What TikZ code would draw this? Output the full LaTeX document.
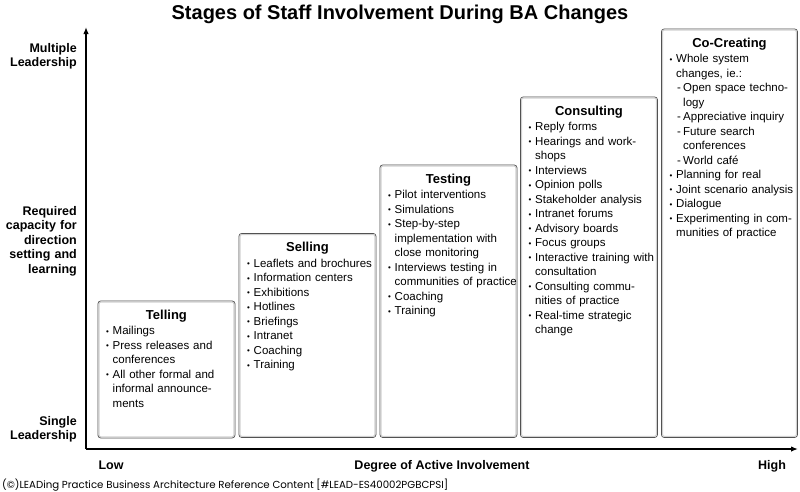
\documentclass[tikz,border=0pt]{standalone}
\usepackage{fontspec}
\usepackage{graphicx}
\setmainfont{Liberation Sans}
\newfontfamily\footfont{Poppins}
\usetikzlibrary{arrows.meta,calc}
\newcommand{\itm}{\par\hangindent=6.5pt\hangafter=1\noindent\strut\makebox[6.5pt][l]{\raisebox{0.3pt}{\footnotesize •}}}
\newcommand{\sitm}{\par\hangindent=13.5pt\hangafter=1\noindent\strut\hspace*{7.5pt}\makebox[6pt][l]{-}}
\begin{document}
\begin{tikzpicture}[x=1pt,y=-1pt,
  stagebox/.style={draw=black!75, line width=0.9pt, rounded corners=3pt, fill=white, anchor=north west, inner sep=0pt},
  innershade/.style={draw=black!18, line width=1.3pt, rounded corners=2pt},
  boxtitle/.style={anchor=base, inner sep=0pt, font=\fontsize{13}{15}\selectfont\bfseries},
  boxitems/.style={anchor=north west, inner sep=0pt, text width=200pt, align=left, font=\fontsize{11.5}{14.5}\selectfont},
  axislabel/.style={anchor=north east, inner sep=0pt, text width=90pt, align=right, font=\fontsize{12.5}{14.5}\selectfont\bfseries},
  bottomlabel/.style={anchor=base, inner sep=0pt, font=\fontsize{12.5}{14.5}\selectfont\bfseries},
  axis/.style={line width=1.5pt, -{Latex[length=7pt,width=5.5pt]}}
]
\useasboundingbox (0,0) rectangle (800,491);

% title
\node[anchor=base, inner sep=0pt, font=\fontsize{20}{24}\selectfont\bfseries] (title) at (400,19) {Stages of Staff Involvement During BA Changes};

% axes
\coordinate (origin) at (86,449);
\coordinate (ytip) at (86,27);
\coordinate (xtip) at (798,449);
\draw[axis] (origin) -- (ytip);
\draw[axis] (origin) -- (xtip);

% axis labels
\node[axislabel] (multi) at (77,42) {\strut Multiple\\Leadership};
\node[axislabel] (req) at (77,205) {\strut Required\\capacity for\\direction\\setting and\\learning};
\node[axislabel] (single) at (77,415) {\strut Single\\Leadership};
\node[bottomlabel] (low) at (111,469.5) {Low};
\node[bottomlabel] (degree) at (442,469.5) {Degree of Active Involvement};
\node[bottomlabel] (high) at (772,469.5) {High};

% boxes
\node[stagebox, minimum width=137pt, minimum height=137pt] (telling) at (97.5,300.5) {};
\node[stagebox, minimum width=137pt, minimum height=204pt] (selling) at (238.5,233) {};
\node[stagebox, minimum width=137pt, minimum height=272.5pt] (testing) at (379.5,164.5) {};
\node[stagebox, minimum width=137pt, minimum height=340.5pt] (consulting) at (520,96.5) {};
\node[stagebox, minimum width=136pt, minimum height=408.5pt] (cocreating) at (661,28.5) {};
\foreach \b in {telling,selling,testing,consulting,cocreating}{
  \draw[innershade] ($(\b.north west)+(1.4,1.4)$) rectangle ($(\b.south east)+(-1.4,-1.4)$);
}

% titles
\node[boxtitle] (tellingT) at ($(telling.north)+(0,18.5)$) {Telling};
\node[boxtitle] (sellingT) at ($(selling.north)+(0,18.5)$) {Selling};
\node[boxtitle] (testingT) at ($(testing.north)+(0,18.5)$) {Testing};
\node[boxtitle] (consultingT) at ($(consulting.north)+(0,18.5)$) {Consulting};
\node[boxtitle] (cocreatingT) at ($(cocreating.north)+(0,18.5)$) {Co-Creating};

% items
\node[boxitems] (tellingL) at ($(telling.north west)+(8.5,19.3)$) {%
\itm Mailings
\itm Press releases and\newline conferences
\itm All other formal and\newline informal announce-\newline ments\par};
\node[boxitems] (sellingL) at ($(selling.north west)+(8.5,19.3)$) {%
\itm Leaflets and brochures
\itm Information centers
\itm Exhibitions
\itm Hotlines
\itm Briefings
\itm Intranet
\itm Coaching
\itm Training\par};
\node[boxitems] (testingL) at ($(testing.north west)+(8.5,19.3)$) {%
\itm Pilot interventions
\itm Simulations
\itm Step-by-step\newline implementation with\newline close monitoring
\itm Interviews testing in\newline communities of practice
\itm Coaching
\itm Training\par};
\node[boxitems] (consultingL) at ($(consulting.north west)+(8.5,19.3)$) {%
\itm Reply forms
\itm Hearings and work-\newline shops
\itm Interviews
\itm Opinion polls
\itm Stakeholder analysis
\itm Intranet forums
\itm Advisory boards
\itm Focus groups
\itm Interactive training with\newline consultation
\itm Consulting commu-\newline nities of practice
\itm Real-time strategic\newline change\par};
\node[boxitems] (cocreatingL) at ($(cocreating.north west)+(8.5,19.3)$) {%
\itm Whole system\newline changes, ie.:
\sitm Open space techno-\newline logy
\sitm Appreciative inquiry
\sitm Future search\newline conferences
\sitm World café
\itm Planning for real
\itm Joint scenario analysis
\itm Dialogue
\itm Experimenting in com-\newline munities of practice\par};

% footer
\node[anchor=base west, inner sep=0pt] (foot) at (2,488) {\resizebox{446pt}{!}{\footfont\fontsize{8}{9}\selectfont (©)LEADing Practice Business Architecture Reference Content [\#LEAD-ES40002PGBCPSI]}};
\end{tikzpicture}
\end{document}
